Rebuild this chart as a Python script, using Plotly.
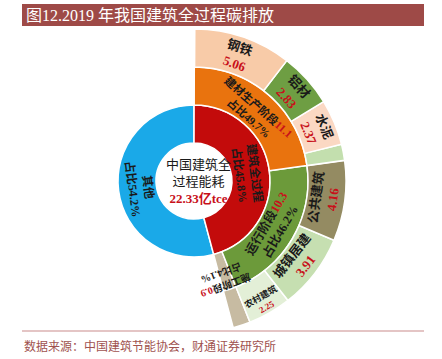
import plotly.graph_objects as go

# ---- data (listed in drawing order: counterclockwise from 12 o'clock) ----
ids = ["root", "其他", "建筑全过程",
       "施工阶段", "运行阶段", "建材生产阶段",
       "施工",
       "农村建筑", "城镇居建", "公共建筑",
       "其他建材", "水泥", "铝材", "钢铁"]
parents = ["", "root", "root",
           "建筑全过程", "建筑全过程", "建筑全过程",
           "施工阶段",
           "运行阶段", "运行阶段", "运行阶段",
           "建材生产阶段", "建材生产阶段", "建材生产阶段", "建材生产阶段"]
values = [48.8, 26.43, 22.36,
          0.9, 10.33, 11.12,
          0.9,
          2.25, 3.91, 4.16,
          0.84, 2.37, 2.83, 5.06]
names = ["", "其他", "建筑全过程",
         "", "运行阶段", "建材生产阶段",
         "",
         "农村建筑", "城镇居建", "公共建筑",
         "", "水泥", "铝材", "钢铁"]
numbers = ["", "", "",
           "", "10.3", "11.1",
           "",
           "2.25", "3.91", "4.16",
           "", "2.37", "2.83", "5.06"]
shares = ["", "占比54.2%", "占比45.8%",
          "", "占比46.2%", "占比49.7%",
          "",
          "", "", "",
          "", "", "", ""]
colors = ["#FFFFFF", "#1AA9E8", "#C30B0B",
          "#C7BBA2", "#6C9A3A", "#E9730E",
          "#C7BBA2",
          "#E3EFD7", "#C6DFB1", "#948B62",
          "#C3DFAE", "#FBD8C3", "#6E9E43", "#F8CBA8"]

center_title = "中国建筑全<br>过程能耗"
center_value = "22.33亿tce"
title_text = "图12.2019 年我国建筑全过程碳排放"
source_text = "数据来源：中国建筑节能协会，财通证券研究所"

RED = "#C8101A"

texts = []
for i in range(len(ids)):
    nm, num, sh = names[i], numbers[i], shares[i]
    if not nm:
        texts.append("")
        continue
    num_html = f"<span style='color:{RED}'>{num}</span>" if num else ""
    if ids[i] in ("建材生产阶段", "运行阶段"):
        t = f"<b>{nm}{num_html}<br>{sh}</b>"
    elif sh:
        t = f"<b>{nm}<br>{sh}</b>"
    else:
        t = f"<b>{nm}<br>{num_html}</b>"
    texts.append(t)

W, H = 442, 359
CX, CY, R = 194, 181, 152

fig = go.Figure(go.Sunburst(
    ids=ids, labels=ids, parents=parents, values=values,
    branchvalues="total", sort=False, rotation=90,
    text=texts, textinfo="text",
    insidetextorientation="tangential",
    insidetextfont=dict(family="Liberation Serif, Noto Sans CJK SC", size=13, color="#1a1a1a"),
    marker=dict(colors=colors, line=dict(color="#FFFFFF", width=1.5)),
    leaf=dict(opacity=1),
    hoverinfo="skip",
    domain=dict(x=[(CX - R) / W, (CX + R) / W],
                y=[1 - (CY + R) / H, 1 - (CY - R) / H]),
))

fig.update_layout(
    width=W, height=H,
    margin=dict(l=0, r=0, t=0, b=0),
    paper_bgcolor="white",
    showlegend=False,
    shapes=[
        dict(type="rect", xref="paper", yref="paper",
             x0=22 / W, x1=424 / W, y0=1 - 26 / H, y1=1 - 4 / H,
             fillcolor="#9E4A47", line=dict(width=0), layer="below"),
        dict(type="line", xref="paper", yref="paper",
             x0=22 / W, x1=424 / W, y0=1 - 331 / H, y1=1 - 331 / H,
             line=dict(color="#C98B8B", width=1)),
    ],
    annotations=[
        dict(text=title_text, xref="paper", yref="paper", x=24 / W, y=1 - 15 / H,
             xanchor="left", yanchor="middle", showarrow=False,
             font=dict(family="Liberation Serif, Noto Sans CJK SC", size=16, color="white")),
        dict(text=source_text, xref="paper", yref="paper", x=22 / W, y=1 - 345 / H,
             xanchor="left", yanchor="middle", showarrow=False,
             font=dict(family="Noto Sans CJK SC", size=12, color="#A0524F")),
        dict(text=f"{center_title}<br><b><span style='color:{RED}'>{center_value}</span></b>",
             xref="paper", yref="paper", x=198 / W, y=1 - 181 / H,
             xanchor="center", yanchor="middle", showarrow=False,
             font=dict(family="Liberation Serif, Noto Sans CJK SC", size=13, color="#1a1a1a")),
        dict(text=f"<b>施工阶段<span style='color:{RED}'>0.9</span><br>占比4.1%</b>",
             xref="paper", yref="paper", x=224 / W, y=1 - 280 / H,
             xanchor="center", yanchor="middle", showarrow=False, textangle=160,
             font=dict(family="Liberation Serif, Noto Sans CJK SC", size=10, color="#1a1a1a")),
    ],
)

fig.write_html("out.html", config={"displayModeBar": False},
               post_script="document.body.style.margin='0';")
